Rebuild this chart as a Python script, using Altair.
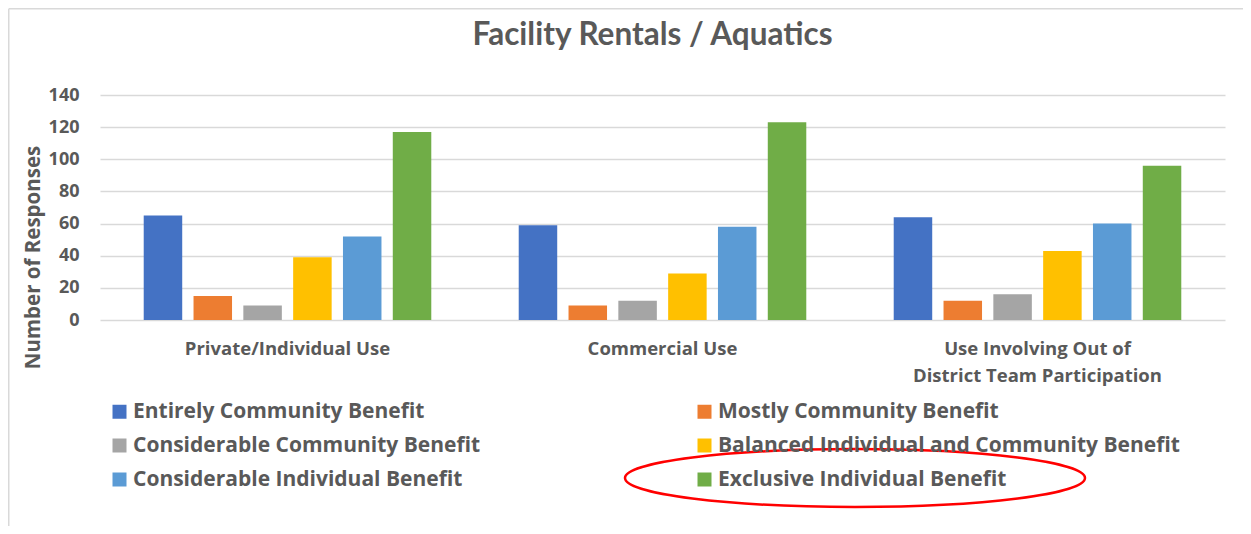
import altair as alt
import pandas as pd

categories = [
    "Private/Individual Use",
    "Commercial Use",
    "Use Involving Out of District Team Participation",
]
series = [
    "Entirely Community Benefit",
    "Mostly Community Benefit",
    "Considerable Community Benefit",
    "Balanced Individual and Community Benefit",
    "Considerable Individual Benefit",
    "Exclusive Individual Benefit",
]
colors = ["#4472C4", "#ED7D31", "#A5A5A5", "#FFC000", "#5B9BD5", "#70AD47"]

entirely = [65, 59, 64]
mostly = [15, 9, 12]
considerable_community = [9, 12, 16]
balanced = [39, 29, 43]
considerable_individual = [52, 58, 60]
exclusive = [117, 123, 96]

y_ticks = [0, 20, 40, 60, 80, 100, 120, 140]

values = [entirely, mostly, considerable_community, balanced, considerable_individual, exclusive]
rows = []
for s, vals in zip(series, values):
    for c, v in zip(categories, vals):
        rows.append({"category": c, "series": s, "value": v})
df = pd.DataFrame(rows)

# legend is filled column by column: order the colour domain so the
# two columns read like the reference (row-wise reading of the series list)
legend_order = series[0::2] + series[1::2]
legend_colors = [colors[series.index(s)] for s in legend_order]

FONT = "Open Sans"
TFONT = "Lato"
GREY = "#595959"

bars = alt.Chart(df).mark_bar().encode(
    x=alt.X(
        "category:N",
        sort=categories,
        title=None,
        scale=alt.Scale(paddingInner=0.203, paddingOuter=0.1015),
        axis=alt.Axis(
            labelAngle=0,
            labelFont=FONT,
            labelFontSize=18.5,
            labelFontWeight="bold",
            labelColor=GREY,
            labelPadding=19,
            labelBaseline="top",
            labelLineHeight=27,
            labelLimit=500,
            labelExpr="datum.label == 'Use Involving Out of District Team Participation' ? ['Use Involving Out of', 'District Team Participation'] : datum.label",
            domain=False,
            ticks=False,
            grid=False,
        ),
    ),
    xOffset=alt.XOffset(
        "series:N",
        sort=series,
        scale=alt.Scale(paddingInner=0.227, paddingOuter=0.1135),
    ),
    y=alt.Y(
        "value:Q",
        scale=alt.Scale(domain=[0, 140], nice=False),
        axis=alt.Axis(
            values=y_ticks,
            title="Number of Responses",
            titleFont=FONT,
            titleFontSize=20.5,
            titleFontWeight="bold",
            titleColor=GREY,
            titleAngle=270,
            titleAlign="center",
            titleBaseline="middle",
            titleX=-67,
            titleY=162,
            labelFont=FONT,
            labelFontSize=18,
            labelFontWeight="bold",
            labelColor=GREY,
            labelPadding=21,
            ticks=False,
            domain=False,
            grid=True,
            gridColor="#D9D9D9",
            gridWidth=1.5,
        ),
    ),
    color=alt.Color(
        "series:N",
        scale=alt.Scale(domain=legend_order, range=legend_colors),
        legend=alt.Legend(
            title=None,
            orient="none",
            legendX=9,
            legendY=306,
            columns=2,
            columnPadding=213,
            rowPadding=12,
            padding=0,
            symbolType="square",
            symbolSize=196,
            symbolStrokeWidth=0,
            labelOffset=3,
            labelFont=FONT,
            labelFontSize=21,
            labelFontWeight="bold",
            labelColor=GREY,
            labelLimit=600,
        ),
    ),
)

ellipse = alt.Chart(pd.DataFrame({"k": [0]})).mark_point(
    shape="M -1 0 A 1 0.126 0 1 0 1 0 A 1 0.126 0 1 0 -1 0 Z",
    filled=False,
    stroke="#FF0000",
    strokeWidth=2.5,
    opacity=1,
).encode(
    x=alt.value(755),
    y=alt.value(383),
    size=alt.value(211600),
)

frame_df = pd.DataFrame({"k": [0]})
border_top = alt.Chart(frame_df).mark_rule(color="#D9D9D9", strokeWidth=1.5).encode(
    x=alt.value(-91.25), x2=alt.value(1143), y=alt.value(-86.25)
)
border_left = alt.Chart(frame_df).mark_rule(color="#D9D9D9", strokeWidth=1.5).encode(
    x=alt.value(-91.25), y=alt.value(-86.25), y2=alt.value(431)
)

chart = alt.layer(bars, ellipse, border_top, border_left).properties(
    width=1125,
    height=225,
    autosize=alt.AutoSizeParams(type="none"),
    padding={"left": 92, "top": 87, "right": 18, "bottom": 206},
    background="white",
    title=alt.TitleParams(
        "Facility Rentals / Aquatics",
        font=TFONT,
        fontSize=31.5,
        fontWeight="bold",
        color=GREY,
        anchor="middle",
        baseline="alphabetic",
        offset=-68,
        dx=-10,
    ),
).configure_view(stroke=None)

chart.save("out.html", embed_options={"renderer": "svg", "actions": False})
